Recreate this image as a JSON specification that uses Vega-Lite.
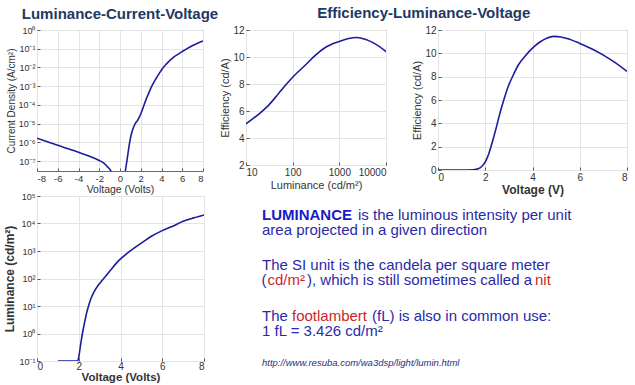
{
  "$schema": "https://vega.github.io/schema/vega-lite/v6.json",
  "background": "white",
  "padding": {"left": 3, "top": 5, "right": 4, "bottom": 0},
  "config": {
    "font": "Liberation Sans",
    "view": {"stroke": "#6a6a6a", "strokeWidth": 1},
    "axis": {"domain": false, "grid": true, "gridColor": "#e4e4e4", "tickColor": "#555", "tickSize": -3, "labelColor": "#333", "titleColor": "#333", "labelFontSize": 10, "titleFontWeight": "normal", "titleFontSize": 11, "labelPadding": 5, "titlePadding": 2},
    "title": {"font": "Liberation Sans", "fontSize": 15, "fontWeight": "bold", "color": "#1F3864"},
    "line": {"color": "#1C1C9C", "strokeWidth": 1.6}
  },
  "datasets": {
    "jv": [
      {"branch": "reverse", "v": -8, "j": 1.7e-6},
      {"branch": "reverse", "v": -7, "j": 1.1e-6},
      {"branch": "reverse", "v": -6, "j": 7e-7},
      {"branch": "reverse", "v": -5, "j": 4.6e-7},
      {"branch": "reverse", "v": -4, "j": 3e-7},
      {"branch": "reverse", "v": -3, "j": 1.9e-7},
      {"branch": "reverse", "v": -2, "j": 1.1e-7},
      {"branch": "reverse", "v": -1.5, "j": 7.5e-8},
      {"branch": "reverse", "v": -1.2, "j": 5e-8},
      {"branch": "reverse", "v": -1.0, "j": 3.8e-8},
      {"branch": "reverse", "v": -0.8, "j": 2.6e-8},
      {"branch": "forward", "v": 0.5, "j": 2.6e-8},
      {"branch": "forward", "v": 0.6, "j": 6e-8},
      {"branch": "forward", "v": 0.74, "j": 2e-7},
      {"branch": "forward", "v": 0.9, "j": 8e-7},
      {"branch": "forward", "v": 1.06, "j": 2.3e-6},
      {"branch": "forward", "v": 1.2, "j": 4.5e-6},
      {"branch": "forward", "v": 1.38, "j": 8e-6},
      {"branch": "forward", "v": 1.55, "j": 1.2e-5},
      {"branch": "forward", "v": 1.7, "j": 1.5e-5},
      {"branch": "forward", "v": 1.85, "j": 2.2e-5},
      {"branch": "forward", "v": 2.02, "j": 3.5e-5},
      {"branch": "forward", "v": 2.2, "j": 6.5e-5},
      {"branch": "forward", "v": 2.34, "j": 1.1e-4},
      {"branch": "forward", "v": 2.55, "j": 2.2e-4},
      {"branch": "forward", "v": 2.82, "j": 5e-4},
      {"branch": "forward", "v": 3.1, "j": 1.1e-3},
      {"branch": "forward", "v": 3.46, "j": 2.5e-3},
      {"branch": "forward", "v": 3.8, "j": 5e-3},
      {"branch": "forward", "v": 4.1, "j": 8.9e-3},
      {"branch": "forward", "v": 4.5, "j": 1.6e-2},
      {"branch": "forward", "v": 5.06, "j": 3.2e-2},
      {"branch": "forward", "v": 5.5, "j": 4.7e-2},
      {"branch": "forward", "v": 6.02, "j": 7.2e-2},
      {"branch": "forward", "v": 6.5, "j": 0.105},
      {"branch": "forward", "v": 7.0, "j": 0.15},
      {"branch": "forward", "v": 7.5, "j": 0.2},
      {"branch": "forward", "v": 8.0, "j": 0.26}
    ],
    "el": [
      {"lum": 10, "eff": 5.05}, {"lum": 20, "eff": 5.85}, {"lum": 30, "eff": 6.4},
      {"lum": 50, "eff": 7.3}, {"lum": 70, "eff": 7.9}, {"lum": 100, "eff": 8.5},
      {"lum": 200, "eff": 9.5}, {"lum": 300, "eff": 10.1}, {"lum": 500, "eff": 10.7},
      {"lum": 1000, "eff": 11.15}, {"lum": 1500, "eff": 11.35}, {"lum": 2400, "eff": 11.45},
      {"lum": 4000, "eff": 11.25}, {"lum": 6000, "eff": 10.95}, {"lum": 10000, "eff": 10.4}
    ],
    "ev": [
      {"v": 0, "eff": 0}, {"v": 1.0, "eff": 0}, {"v": 1.5, "eff": 0.02}, {"v": 1.7, "eff": 0.1},
      {"v": 1.85, "eff": 0.3}, {"v": 2.0, "eff": 0.7}, {"v": 2.15, "eff": 1.4}, {"v": 2.3, "eff": 2.4},
      {"v": 2.45, "eff": 3.5}, {"v": 2.6, "eff": 4.7}, {"v": 2.8, "eff": 6.1}, {"v": 3.0, "eff": 7.3},
      {"v": 3.2, "eff": 8.2}, {"v": 3.4, "eff": 9.0}, {"v": 3.7, "eff": 9.8}, {"v": 4.0, "eff": 10.45},
      {"v": 4.3, "eff": 10.95}, {"v": 4.6, "eff": 11.3}, {"v": 4.9, "eff": 11.45}, {"v": 5.2, "eff": 11.4},
      {"v": 5.5, "eff": 11.25}, {"v": 6.0, "eff": 10.85}, {"v": 6.5, "eff": 10.4}, {"v": 7.0, "eff": 9.85},
      {"v": 7.5, "eff": 9.2}, {"v": 8.0, "eff": 8.45}
    ],
    "lv": [
      {"v": 1.0, "lum": 0.1}, {"v": 1.95, "lum": 0.1}, {"v": 2.0, "lum": 0.14}, {"v": 2.1, "lum": 0.45},
      {"v": 2.2, "lum": 1.26}, {"v": 2.3, "lum": 3}, {"v": 2.4, "lum": 6.6}, {"v": 2.5, "lum": 12},
      {"v": 2.6, "lum": 20}, {"v": 2.7, "lum": 29.5}, {"v": 2.8, "lum": 40}, {"v": 3.0, "lum": 66},
      {"v": 3.25, "lum": 112}, {"v": 3.5, "lum": 190}, {"v": 3.9, "lum": 436}, {"v": 4.3, "lum": 800},
      {"v": 4.7, "lum": 1350}, {"v": 5.1, "lum": 2200}, {"v": 5.5, "lum": 3500}, {"v": 6.0, "lum": 5500},
      {"v": 6.5, "lum": 8000}, {"v": 7.0, "lum": 12000}, {"v": 7.5, "lum": 16000}, {"v": 8.0, "lum": 20500}
    ],
    "txt": [
      {"seg": "LUMINANCE", "x": 5, "y": 24, "kind": "term"},
      {"seg": "is the luminous intensity per unit", "x": 101, "y": 24, "kind": "body"},
      {"seg": "area projected in a given direction", "x": 5, "y": 38.5, "kind": "body"},
      {"seg": "The SI unit is the candela per square meter", "x": 5, "y": 73.5, "kind": "body"},
      {"seg": "(", "x": 4.5, "y": 88.5, "kind": "body"},
      {"seg": "cd/m²", "x": 10.5, "y": 88.5, "kind": "red"},
      {"seg": "), which is still sometimes called a", "x": 50, "y": 88.5, "kind": "body"},
      {"seg": "nit", "x": 278, "y": 88.5, "kind": "red"},
      {"seg": "The", "x": 5, "y": 125, "kind": "body"},
      {"seg": "footlambert", "x": 35, "y": 125, "kind": "red"},
      {"seg": "(fL) is also in common use:", "x": 115, "y": 125, "kind": "body"},
      {"seg": "1 fL = 3.426 cd/m²", "x": 5, "y": 140, "kind": "body"},
      {"seg": "http://www.resuba.com/wa3dsp/light/lumin.html", "x": 5, "y": 170, "kind": "url"}
    ]
  },
  "spacing": -7,
  "vconcat": [
    {
      "spacing": 0,
      "hconcat": [
        {
          "width": 166, "height": 141,
          "title": {"text": "Luminance-Current-Voltage", "anchor": "middle"},
          "data": {"name": "jv"},
          "mark": {"type": "line", "clip": true, "interpolate": "monotone"},
          "encoding": {
            "x": {"field": "v", "type": "quantitative", "scale": {"domain": [-8, 8], "nice": false}, "axis": {"values": [-8, -6, -4, -2, 0, 2, 4, 6, 8], "labelExpr": "replace(datum.label, '−', '-')", "title": "Voltage (Volts)", "labelFontSize": 9.5, "titleFontSize": 10.5}},
            "y": {"field": "j", "type": "quantitative", "scale": {"type": "log", "domain": [3e-8, 1], "nice": false}, "axis": {"values": [1e-7, 1e-6, 1e-5, 1e-4, 1e-3, 1e-2, 0.1, 1], "labelExpr": "'10' + ['⁻⁷','⁻⁶','⁻⁵','⁻⁴','⁻³','⁻²','⁻¹','⁰'][round(log(datum.value)/LN10)+7]", "title": "Current Density (A/cm²)", "labelFontSize": 9, "titleFontSize": 10}},
            "detail": {"field": "branch"}
          }
        },
        {
          "title": {"text": "Efficiency-Luminance-Voltage", "anchor": "middle"},
          "spacing": 24,
          "hconcat": [
            {
              "width": 140, "height": 135,
              "data": {"name": "el"},
              "mark": {"type": "line", "clip": true, "interpolate": "monotone"},
              "encoding": {
                "x": {"field": "lum", "type": "quantitative", "scale": {"type": "log", "domain": [10, 10000], "nice": false}, "axis": {"values": [10, 100, 1000, 10000], "format": "d", "title": "Luminance (cd/m²)"}},
                "y": {"field": "eff", "type": "quantitative", "scale": {"domain": [2, 12], "nice": false}, "axis": {"values": [2, 4, 6, 8, 10, 12], "title": "Efficiency (cd/A)"}}
              }
            },
            {
              "width": 189, "height": 140,
              "data": {"name": "ev"},
              "mark": {"type": "line", "clip": true, "interpolate": "monotone"},
              "encoding": {
                "x": {"field": "v", "type": "quantitative", "scale": {"domain": [0, 8], "nice": false}, "axis": {"values": [0, 2, 4, 6, 8], "title": "Voltage (V)", "titleFontWeight": "bold", "titleFontSize": 12}},
                "y": {"field": "eff", "type": "quantitative", "scale": {"domain": [0, 12], "nice": false}, "axis": {"values": [0, 2, 4, 6, 8, 10, 12], "title": "Efficiency (cd/A)"}}
              }
            }
          ]
        }
      ]
    },
    {
      "spacing": 52,
      "hconcat": [
        {
          "width": 167, "height": 165,
          "data": {"name": "lv"},
          "mark": {"type": "line", "clip": true, "interpolate": "monotone"},
          "encoding": {
            "x": {"field": "v", "type": "quantitative", "scale": {"domain": [0, 8], "nice": false}, "axis": {"values": [0, 2, 4, 6, 8], "title": "Voltage (Volts)", "titleFontWeight": "bold", "titleFontSize": 11.5, "labelPadding": 3, "titlePadding": 0}},
            "y": {"field": "lum", "type": "quantitative", "scale": {"type": "log", "domain": [0.1, 100000], "nice": false}, "axis": {"values": [0.1, 1, 10, 100, 1000, 10000, 100000], "labelExpr": "'10' + ['⁻¹','⁰','¹','²','³','⁴','⁵'][round(log(datum.value)/LN10)+1]", "title": "Luminance (cd/m²)", "titleFontWeight": "bold", "titleFontSize": 12, "labelFontSize": 9}}
          }
        },
        {
          "width": 360, "height": 180,
          "view": {"stroke": null},
          "data": {"name": "txt"},
          "encoding": {
            "x": {"field": "x", "type": "quantitative", "scale": {"domain": [0, 360]}, "axis": null},
            "y": {"field": "y", "type": "quantitative", "scale": {"domain": [0, 180], "reverse": true}, "axis": null},
            "text": {"field": "seg"}
          },
          "layer": [
            {"transform": [{"filter": "datum.kind == 'term'"}], "mark": {"type": "text", "align": "left", "baseline": "alphabetic", "fontSize": 15, "fontWeight": "bold", "color": "#1A1AC4"}},
            {"transform": [{"filter": "datum.kind == 'body'"}], "mark": {"type": "text", "align": "left", "baseline": "alphabetic", "fontSize": 15, "color": "#2A2AA8"}},
            {"transform": [{"filter": "datum.kind == 'red'"}], "mark": {"type": "text", "align": "left", "baseline": "alphabetic", "fontSize": 15, "color": "#C82828"}},
            {"transform": [{"filter": "datum.kind == 'url'"}], "mark": {"type": "text", "align": "left", "baseline": "alphabetic", "fontSize": 9.5, "fontStyle": "italic", "color": "#1F2F80"}}
          ]
        }
      ]
    }
  ]
}
